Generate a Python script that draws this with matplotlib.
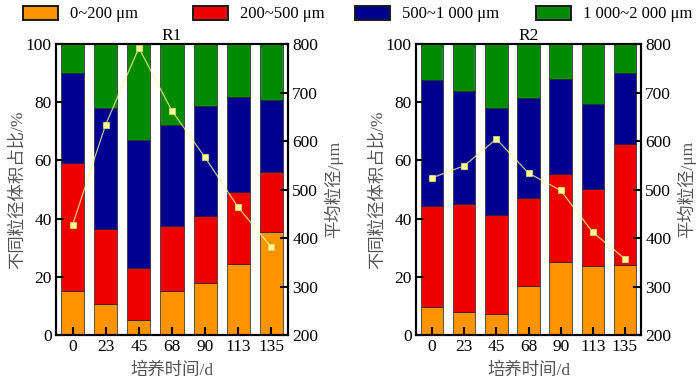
import matplotlib
matplotlib.use("Agg")
import matplotlib.pyplot as plt
import numpy as np

plt.rcParams['font.family'] = ['Liberation Serif', 'Noto Sans CJK SC']
plt.rcParams['axes.unicode_minus'] = False

days = ['0', '23', '45', '68', '90', '113', '135']
classes = ['0~200 μm', '200~500 μm', '500~1 000 μm', '1 000~2 000 μm']
colors = ['#FF9400', '#EE0000', '#000090', '#008A00']

r1_orange = [15.0, 10.5, 5.3, 15.0, 17.8, 24.5, 35.5]
r1_red = [44.0, 25.8, 17.6, 22.6, 23.2, 24.5, 20.5]
r1_blue = [31.0, 41.6, 44.1, 34.7, 37.8, 32.9, 24.6]
r1_green = [10.0, 22.1, 33.0, 27.7, 21.2, 18.1, 19.4]
r1_mean = [427, 634, 792, 662, 566, 463, 381]

r2_orange = [9.5, 8.0, 7.1, 16.7, 25.0, 23.8, 24.2]
r2_red = [34.8, 36.9, 34.0, 30.4, 30.2, 26.4, 41.5]
r2_blue = [43.3, 38.9, 36.9, 34.3, 32.8, 29.1, 24.2]
r2_green = [12.4, 16.2, 22.0, 18.6, 12.0, 20.7, 10.1]
r2_mean = [524, 549, 604, 534, 498, 412, 357]

fig = plt.figure(figsize=(7.0, 3.84), dpi=100)
ax_pos = [[0.080, 0.1276, 0.3314, 0.7578], [0.5943, 0.1276, 0.3214, 0.7578]]
panels = [('R1', [r1_orange, r1_red, r1_blue, r1_green], r1_mean),
          ('R2', [r2_orange, r2_red, r2_blue, r2_green], r2_mean)]

cjk = ['Liberation Serif', 'Noto Sans CJK SC']
lab_col = '#555555'
handles = None
for pos, (title, segs, mean) in zip(ax_pos, panels):
    ax = fig.add_axes(pos)
    x = np.arange(len(days))
    bottom = np.zeros(len(days))
    hs = []
    for seg, c in zip(segs, colors):
        h = ax.bar(x, seg, width=0.7, bottom=bottom, color=c,
                   edgecolor='#222222', linewidth=0.5)
        bottom += np.array(seg)
        hs.append(h)
    handles = hs
    ax.set_xlim(-0.5, len(days) - 0.5)
    ax.set_ylim(0, 100)
    ax.set_yticks([0, 20, 40, 60, 80, 100])
    ax.set_xticks(x)
    ax.set_xticklabels(days)
    ax.tick_params(direction='in', length=6, width=1.5, labelsize=12.5, pad=3)
    for s in ax.spines.values():
        s.set_linewidth(1.5)
    ax.set_title(title, fontsize=12.5, pad=1)
    ax.set_ylabel('不同粒径体积占比/%', fontsize=12.5, color=lab_col,
                  family=cjk, labelpad=0)
    ax.set_xlabel('培养时间/d', fontsize=12.5, color=lab_col, family=cjk,
                  labelpad=5)

    ax2 = ax.twinx()
    ax2.set_ylim(200, 800)
    ax2.set_yticks([200, 300, 400, 500, 600, 700, 800])
    ax2.tick_params(direction='in', length=6, width=1.5, labelsize=12.5, pad=3)
    for s in ax2.spines.values():
        s.set_linewidth(1.5)
    ax2.plot(x, mean, color='#FFFF99', alpha=0.75, linewidth=0.9)
    ax2.plot(x, mean, linestyle='none', marker='s', markersize=5,
             markerfacecolor='#FFFF99', markeredgecolor='#D8D870',
             markeredgewidth=0.6)
    ax2.set_ylabel('平均粒径/μm', fontsize=12.5, color=lab_col,
                   family=cjk, labelpad=4)

# legend entries placed individually along the top
leg_x = [23, 193, 355, 536]
for h, lab, xp in zip(handles, classes, leg_x):
    leg = fig.legend([h], [lab], loc='center left',
                     bbox_to_anchor=(xp / 700, 1 - 14 / 384), frameon=False,
                     fontsize=12, handlelength=2.1, handleheight=0.9,
                     handletextpad=0.7, borderpad=0, borderaxespad=0)
    for p in leg.get_patches():
        p.set_edgecolor('#1a1a1a')
        p.set_linewidth(1.4)

fig.savefig('out.png', dpi=100)
